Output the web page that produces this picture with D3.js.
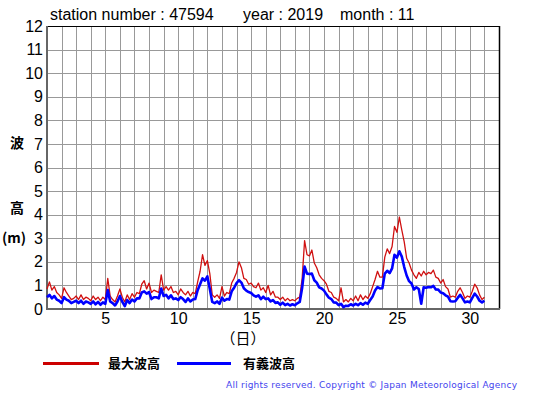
<!DOCTYPE html>
<html>
<head>
<meta charset="utf-8">
<script src="https://cdn.jsdelivr.net/npm/d3@7"></script>
<style>
  body { margin: 0; background: #fff; }
  svg { display: block; }
  .tick text { font-family: "Liberation Sans", Arial, sans-serif; font-size: 16px; fill: #000; }
</style>
</head>
<body>
<svg id="chart" width="555" height="395"></svg>
<script>
// wave heights, 6 readings per day (every 4 hours), day 1 00:00 .. day 31 00:00
const maxWave = [
  0.85, 1.15, 0.8, 0.95, 0.7, 0.6,
  0.45, 0.9, 0.7, 0.55, 0.4, 0.45,
  0.55, 0.4, 0.6, 0.4, 0.5, 0.45,
  0.35, 0.55, 0.4, 0.5, 0.35, 0.5,
  0.4, 1.3, 0.55, 0.4, 0.3, 0.55,
  0.85, 0.5, 0.3, 0.6, 0.4, 0.65,
  0.5, 0.7, 0.65, 1.05, 1.2, 0.85,
  1.1, 0.7, 0.8, 0.75, 0.7, 1.45,
  0.8, 0.95, 0.8, 0.95, 0.7, 0.75,
  0.6, 0.85, 0.7, 0.6, 0.75, 0.55,
  0.7, 0.65, 1.15, 1.6, 2.3, 1.85,
  2.05, 1.5, 0.6, 0.5, 0.6, 0.45,
  0.95, 0.55, 0.7, 0.65, 1.1, 1.3,
  1.55, 2.0, 1.75, 1.3, 1.25, 1.05,
  1.1, 0.95, 0.9, 1.1, 0.8, 0.9,
  0.7, 1.0, 0.6, 0.75, 0.5, 0.5,
  0.4, 0.5, 0.35, 0.45, 0.35, 0.4,
  0.35, 0.45, 0.5, 1.3, 2.9, 2.3,
  2.25, 2.5, 1.95, 1.75, 1.45, 1.3,
  1.2, 1.05, 0.75, 0.7, 0.5, 0.45,
  0.35, 0.9, 0.3, 0.4, 0.3, 0.45,
  0.35, 0.55, 0.35, 0.6, 0.4, 0.55,
  0.45, 0.65, 0.95, 1.25, 1.6, 1.35,
  1.35, 2.2, 2.55, 2.35, 2.65, 3.5,
  3.25, 3.9, 3.35, 2.85, 2.15, 1.95,
  1.65, 1.45, 1.3, 1.55, 1.4, 1.6,
  1.45, 1.55, 1.5, 1.65, 1.35, 1.3,
  1.1, 1.25, 0.95, 0.85, 0.5, 0.55,
  0.5, 0.75, 0.9, 0.7, 0.45, 0.55,
  0.5, 0.75, 1.05, 0.9, 0.6, 0.4,
  0.5
];
const sigWave = [
  0.5, 0.6, 0.45, 0.55, 0.4, 0.35,
  0.25, 0.5, 0.4, 0.35, 0.25, 0.3,
  0.35, 0.25, 0.35, 0.22, 0.32, 0.28,
  0.22, 0.32, 0.2, 0.3, 0.18, 0.28,
  0.22, 0.8, 0.32, 0.25, 0.15, 0.32,
  0.55, 0.3, 0.12, 0.38, 0.25, 0.4,
  0.32, 0.45, 0.45, 0.7, 0.75, 0.65,
  0.72, 0.42, 0.5, 0.5, 0.45, 0.87,
  0.55, 0.6, 0.45, 0.58, 0.42, 0.45,
  0.38, 0.5, 0.42, 0.3, 0.45, 0.32,
  0.4, 0.42, 0.8, 1.05, 1.3, 1.2,
  1.38, 0.85, 0.3, 0.25, 0.32, 0.22,
  0.48, 0.35, 0.42, 0.4, 0.75, 0.9,
  1.1, 1.22, 1.12, 0.88, 0.78, 0.72,
  0.68, 0.58, 0.52, 0.58, 0.42, 0.52,
  0.42, 0.45, 0.32, 0.38, 0.26, 0.28,
  0.18, 0.27, 0.16, 0.22, 0.15, 0.2,
  0.16, 0.24, 0.3, 0.9, 1.8, 1.5,
  1.48, 1.5, 1.22, 1.12, 0.92, 0.87,
  0.78, 0.62, 0.48, 0.42, 0.28, 0.27,
  0.16, 0.22, 0.08, 0.14, 0.13, 0.2,
  0.15, 0.22, 0.16, 0.25, 0.18, 0.27,
  0.22, 0.38, 0.53, 0.78, 0.93, 0.87,
  0.88, 1.5, 1.62, 1.52, 1.72, 2.3,
  2.18, 2.45, 2.22, 1.78, 1.42, 1.18,
  1.08, 0.83, 0.92, 0.85, 0.22, 0.92,
  0.9, 0.93, 0.92, 0.98, 0.83, 0.82,
  0.7, 0.67, 0.58, 0.52, 0.33, 0.32,
  0.33, 0.47, 0.6, 0.45, 0.28, 0.32,
  0.28, 0.47, 0.65, 0.53, 0.35, 0.28,
  0.35
];
const xTicks = [5, 10, 15, 20, 25, 30];
const yTicks = [0, 1, 2, 3, 4, 5, 6, 7, 8, 9, 10, 11, 12];
const seriesNames = ["最大波高", "有義波高"];

const pLeft = 47, pRight = 499, pTop = 26, pBottom = 309;

const svg = d3.select("#chart");
const x = d3.scaleLinear().domain([1, 32]).range([pLeft, pRight]);
const y = d3.scaleLinear().domain([0, 12]).range([pBottom, pTop]);

// grid
const grid = svg.append("g").attr("stroke", "#999").attr("stroke-width", 1);
for (let d = 2; d <= 31; d++) {
    grid.append("line")
        .attr("x1", Math.round(x(d)) + 0.5).attr("x2", Math.round(x(d)) + 0.5)
        .attr("y1", pTop).attr("y2", pBottom);
}
for (let v = 1; v <= 11; v++) {
    grid.append("line")
        .attr("x1", pLeft).attr("x2", pRight)
        .attr("y1", Math.round(y(v)) + 0.5).attr("y2", Math.round(y(v)) + 0.5);
}

// frame: top/right black, left/bottom gray thick
svg.append("line").attr("x1", pLeft).attr("x2", pRight + 0.5).attr("y1", pTop + 0.5).attr("y2", pTop + 0.5)
    .attr("stroke", "#000");
svg.append("line").attr("x1", pRight + 0.5).attr("x2", pRight + 0.5).attr("y1", pTop).attr("y2", pBottom)
    .attr("stroke", "#000").attr("stroke-width", 1.5);
svg.append("line").attr("x1", pLeft).attr("x2", pLeft).attr("y1", pTop).attr("y2", pBottom + 1)
    .attr("stroke", "#666").attr("stroke-width", 2);
svg.append("line").attr("x1", pLeft).attr("x2", pRight + 1).attr("y1", pBottom).attr("y2", pBottom)
    .attr("stroke", "#666").attr("stroke-width", 2);

// axes
const yAxis = svg.append("g")
    .attr("transform", `translate(${pLeft},0)`)
    .call(d3.axisLeft(y).tickValues(yTicks).tickSize(0).tickPadding(4));
const xAxis = svg.append("g")
    .attr("transform", `translate(0,${pBottom})`)
    .call(d3.axisBottom(x).tickValues(xTicks).tickSize(0).tickPadding(4));
yAxis.select(".domain").remove();
xAxis.select(".domain").remove();

// lines
const line = d3.line()
    .x((d, i) => x(1 + i / 6))
    .y(d => y(d));

svg.append("path")
    .datum(maxWave)
    .attr("fill", "none")
    .attr("stroke", "#d01010")
    .attr("stroke-width", 1.3)
    .attr("stroke-linejoin", "round")
    .attr("d", line);

svg.append("path")
    .datum(sigWave)
    .attr("fill", "none")
    .attr("stroke", "#0000ff")
    .attr("stroke-width", 2.6)
    .attr("stroke-linejoin", "round")
    .attr("d", line);

// title
const font = '"Liberation Sans", Arial, sans-serif';
const title = [["station number : 47594", 50], ["year : 2019", 243], ["month : 11", 340]];
title.forEach(([t, tx]) => {
    svg.append("text").attr("x", tx).attr("y", 20)
        .attr("font-family", font).attr("font-size", 16).text(t);
});

// y label
const jp = '"Noto Sans CJK JP", sans-serif';
svg.append("text").attr("x", 17).attr("y", 148).attr("text-anchor", "middle")
    .attr("font-family", jp).attr("font-weight", "bold").attr("font-size", 14).text("波");
svg.append("text").attr("x", 17).attr("y", 213).attr("text-anchor", "middle")
    .attr("font-family", jp).attr("font-weight", "bold").attr("font-size", 14).text("高");
svg.append("text").attr("x", 14).attr("y", 243).attr("text-anchor", "middle")
    .attr("font-family", jp).attr("font-weight", "bold").attr("font-size", 14).text("(m)");

// x label
svg.append("text").attr("x", 243).attr("y", 344).attr("text-anchor", "middle")
    .attr("font-family", jp).attr("font-size", 15).text("（日）");

// legend
const legend = [
    {name: seriesNames[0], color: "#cc0000", x1: 43, x2: 99, tx: 108},
    {name: seriesNames[1], color: "#0000ff", x1: 177, x2: 231, tx: 243}
];
legend.forEach(l => {
    svg.append("line").attr("x1", l.x1).attr("x2", l.x2).attr("y1", 363.5).attr("y2", 363.5)
        .attr("stroke", l.color).attr("stroke-width", 3);
    svg.append("text").attr("x", l.tx).attr("y", 368)
        .attr("font-family", jp).attr("font-weight", "bold").attr("font-size", 13).text(l.name);
});

// copyright
svg.append("text").attr("x", 226).attr("y", 388)
    .attr("font-family", '"DejaVu Sans", sans-serif').attr("font-size", 9)
    .attr("fill", "#4444ee")
    .attr("textLength", 291).attr("lengthAdjust", "spacing")
    .text("All rights reserved. Copyright © Japan Meteorological Agency");
</script>
</body>
</html>
